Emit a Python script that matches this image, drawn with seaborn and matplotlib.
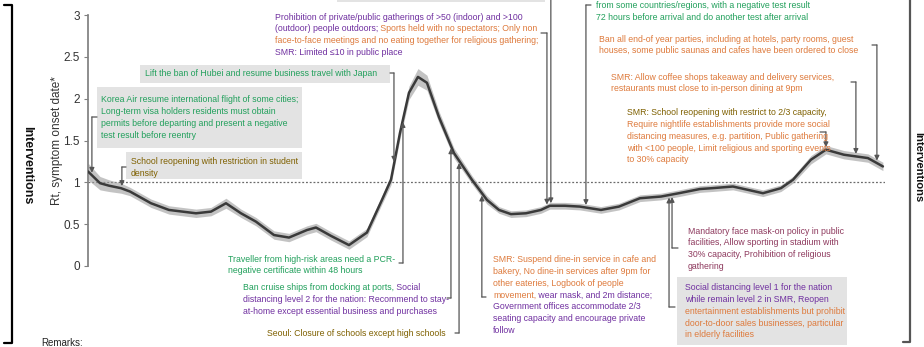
import numpy as np
import matplotlib
matplotlib.use("Agg")
import matplotlib.pyplot as plt
import seaborn as sns
from matplotlib.patches import Rectangle
from matplotlib.lines import Line2D

# Rt curve (day index from the left edge of the axis)
days = [0, 4, 7, 11, 14, 21, 27, 36, 41, 46, 51, 56, 62, 67, 73, 76, 81, 87, 93, 98,
        101, 104, 107, 110, 113, 117, 122, 128, 133, 137, 141, 146, 151, 154, 159, 164,
        171, 177, 184, 191, 197, 204, 208, 215, 220, 225, 231, 235, 241, 246, 252, 256,
        260, 265]
rt = [1.13, 0.99, 0.96, 0.93, 0.89, 0.75, 0.67, 0.63, 0.65, 0.75, 0.63, 0.53, 0.37, 0.34,
      0.43, 0.46, 0.36, 0.25, 0.40, 0.79, 1.03, 1.59, 2.07, 2.26, 2.19, 1.78, 1.35, 1.03,
      0.79, 0.67, 0.62, 0.63, 0.67, 0.72, 0.72, 0.71, 0.67, 0.71, 0.81, 0.83, 0.87, 0.92,
      0.93, 0.95, 0.91, 0.87, 0.93, 1.03, 1.27, 1.39, 1.33, 1.31, 1.29, 1.19]
ci_half = [0.10, 0.08, 0.07, 0.06, 0.05, 0.05, 0.05, 0.05, 0.05, 0.06, 0.05, 0.05, 0.05, 0.05,
           0.05, 0.05, 0.05, 0.05, 0.05, 0.05, 0.06, 0.07, 0.08, 0.10, 0.09, 0.07, 0.06, 0.05,
           0.05, 0.04, 0.04, 0.04, 0.04, 0.04, 0.04, 0.04, 0.04, 0.04, 0.04, 0.04, 0.04, 0.04,
           0.04, 0.04, 0.04, 0.04, 0.04, 0.04, 0.05, 0.05, 0.05, 0.05, 0.05, 0.05]

yticks = [0, 0.5, 1, 1.5, 2, 2.5, 3]
ytick_labels = ["0", "0.5", "1", "1.5", "2", "2.5", "3"]

GREEN = "#22a05c"
PURPLE = "#7030a0"
ORANGE = "#de7a3c"
OLIVE = "#7f6000"
MAROON = "#8e3a5e"
BOXC = "#e3e3e3"
ARROWC = "#555555"

W, H = 924, 347
FONT = ["Liberation Sans", "DejaVu Sans"]
FS = 6.3

sns.set_theme(style="white")
plt.rcParams["font.family"] = ["Liberation Sans", "DejaVu Sans"]

fig = plt.figure(figsize=(W / 100, H / 100), dpi=100)
ax = fig.add_axes([88 / W, 1 - 266 / H, (885 - 88) / W, (266 - 15) / H])
ax.set_facecolor("none")

lo = np.array(rt) - np.array(ci_half)
hi = np.array(rt) + np.array(ci_half)
ax.fill_between(days, lo, hi, color="#9c9c9c", alpha=0.6, lw=0, zorder=2)
sns.lineplot(x=days, y=rt, ax=ax, color="#3a3a3a", lw=1.8, zorder=3)
ax.axhline(1, color="#6a6a6a", ls=(0, (1.5, 1.5)), lw=0.9, zorder=1)

ax.set_xlim(0, 265.7)
ax.set_ylim(0, 3)
ax.set_yticks(yticks)
ax.set_yticklabels(ytick_labels)
ax.set_xticks([])
for s in ["top", "right", "bottom"]:
    ax.spines[s].set_visible(False)
ax.spines["left"].set_color("#808080")
ax.tick_params(axis="y", direction="out", length=3, width=0.8, color="#808080",
               labelsize=8.5, labelcolor="#333333", pad=3, left=True)
ax.set_ylabel("Rt, symptom onset date*", fontsize=8.5, color="#333333")
ax.yaxis.set_label_coords(-0.031, 0.5)


def put_line(x, y, parts, size=FS):
    t = fig.text(x / W, 1 - y / H, parts[0][0], color=parts[0][1], fontsize=size,
                 family=FONT, va="center", ha="left")
    for s, c in parts[1:]:
        t = ax.annotate(s, xy=(1, 0), xycoords=t, va="bottom", ha="left", color=c,
                        fontsize=size, family=FONT)


def put_box(x0, y0, x1, y1):
    fig.add_artist(Rectangle((x0 / W, 1 - y1 / H), (x1 - x0) / W, (y1 - y0) / H,
                             transform=fig.transFigure, facecolor=BOXC, edgecolor="none",
                             zorder=-1))


# text notes: (left px, first line centre px, lines of (text, colour) parts, box)
notes = [
    (101, 100, [[("Korea Air resume international flight of some cities;", GREEN)],
                [("Long-term visa holders residents must obtain", GREEN)],
                [("permits before departing and present a negative", GREEN)],
                [("test result before reentry", GREEN)]], (97, 87, 302, 148)),
    (131, 162, [[("School reopening with restriction in student", OLIVE)],
                [("density", OLIVE)]], (126, 152, 302, 179)),
    (145, 74, [[("Lift the ban of Hubei and resume business travel with Japan", GREEN)]],
     (140, 65, 390, 83)),
    (275, 17, [[("Prohibition of private/public gatherings of >50 (indoor) and >100", PURPLE)],
               [("(outdoor) people outdoors;", PURPLE),
                (" Sports held with no spectators; Only non", ORANGE)],
               [("face-to-face meetings and no eating together for religious gathering;", ORANGE)],
               [("SMR: Limited \u226410 in public place", PURPLE)]], None),
    (596, 6, [[("from some countries/regions, with a negative test result", GREEN)],
              [("72 hours before arrival and do another test after arrival", GREEN)]], None),
    (599, 39, [[("Ban all end-of year parties, including at hotels, party rooms, guest", ORANGE)],
               [("houses, some public saunas and cafes have been ordered to close", ORANGE)]], None),
    (611, 77, [[("SMR: Allow coffee shops takeaway and delivery services,", ORANGE)],
               [("restaurants must close to in-person dining at 9pm", ORANGE)]], None),
    (627, 113, [[("SMR: School reopening with restrict to 2/3 capacity,", OLIVE)],
                [("Require nightlife establishments provide more social", ORANGE)],
                [("distancing measures, e.g. partition, Public gathering", ORANGE)],
                [("with <100 people, Limit religious and sporting events", ORANGE)],
                [("to 30% capacity", ORANGE)]], None),
    (228, 259, [[("Traveller from high-risk areas need a PCR-", GREEN)],
                [("negative certificate within 48 hours", GREEN)]], None),
    (243, 288, [[("Ban cruise ships from docking at ports,", GREEN), (" Social", PURPLE)],
                [("distancing level 2 for the nation: Recommend to stay-", PURPLE)],
                [("at-home except essential business and purchases", PURPLE)]], None),
    (267, 334, [[("Seoul: Closure of schools except high schools", OLIVE)]], None),
    (493, 260, [[("SMR: Suspend dine-in service in cafe and", ORANGE)],
                [("bakery, No dine-in services after 9pm for", ORANGE)],
                [("other eateries, Logbook of people", ORANGE)],
                [("movement,", ORANGE), (" wear mask, and 2m distance;", PURPLE)],
                [("Government offices accommodate 2/3", PURPLE)],
                [("seating capacity and encourage private", PURPLE)],
                [("follow", PURPLE)]], None),
    (688, 231, [[("Mandatory face mask-on policy in public", MAROON)],
                [("facilities, Allow sporting in stadium with", MAROON)],
                [("30% capacity, Prohibition of religious", MAROON)],
                [("gathering", MAROON)]], None),
    (685, 288, [[("Social distancing level 1 for the nation", PURPLE)],
                [("while remain level 2 in SMR, Reopen", PURPLE)],
                [("entertainment establishments but prohibit", ORANGE)],
                [("door-to-door sales businesses, particular", ORANGE)],
                [("in elderly facilities", ORANGE)]], (677, 277, 847, 345)),
]

for x, y, lines, box in notes:
    if box:
        put_box(*box)
    for i, parts in enumerate(lines):
        put_line(x, y + i * 11.7, parts)

# partially visible box at the top edge
put_box(337, -20, 545, 2)

# arrows: (event day, stub start px, stub y px, direction)
events = [
    (1.3, 97, 117, "down"), (11.3, 126, 167, "down"), (102, 390, 73, "down"),
    (153, 541, 33, "down"), (154.3, 545, -5, "down"), (166, 591, 5, "down"),
    (263, 872, 45, "down"), (256, 851, 82, "down"), (246, 820, 132, "down"),
    (105, 399, 263, "up"), (121, 447, 298, "up"), (123.7, 455, 333, "up"),
    (131.3, 486, 297, "up"), (194.7, 678, 248, "up"), (193.7, 675, 307, "up"),
]
for d, sx, sy, way in events:
    yc = np.interp(d, days, rt)
    tip = yc + 0.03 if way == "down" else yc - 0.03
    ax.annotate("", xy=(d, 1 - sy / H), xycoords=("data", "figure fraction"),
                xytext=(sx / W, 1 - sy / H), textcoords="figure fraction",
                arrowprops=dict(arrowstyle="-", color=ARROWC, lw=0.9,
                                shrinkA=0, shrinkB=0), annotation_clip=False)
    ax.annotate("", xy=(d, tip), xytext=(d, 1 - sy / H),
                textcoords=("data", "figure fraction"),
                arrowprops=dict(arrowstyle="-|>", color=ARROWC, lw=0.9,
                                mutation_scale=7, shrinkA=0, shrinkB=0),
                annotation_clip=False, zorder=4)

# brackets and side labels
fig.add_artist(Line2D([4 / W, 12 / W, 12 / W, 4 / W],
                      [1 - 5 / H, 1 - 5 / H, 1 - 343 / H, 1 - 343 / H],
                      transform=fig.transFigure, color="black", lw=1.6))
fig.add_artist(Line2D([910 / W, 910 / W, 903 / W],
                      [1 + 5 / H, 1 - 342 / H, 1 - 342 / H],
                      transform=fig.transFigure, color="#555555", lw=1.6))
fig.text(27 / W, 1 - 165 / H, "Interventions", rotation=-90, ha="center", va="center",
         fontsize=9, fontweight="bold", color="#111111")
fig.text(913 / W, 1 - 167 / H, "Interventions", rotation=-90, ha="left", va="center",
         fontsize=8, fontweight="bold", color="#111111")
fig.text(41 / W, 1 - 343 / H, "Remarks:", ha="left", va="center", fontsize=7,
         family=FONT, color="#222222")

fig.savefig("out.png", dpi=100)
